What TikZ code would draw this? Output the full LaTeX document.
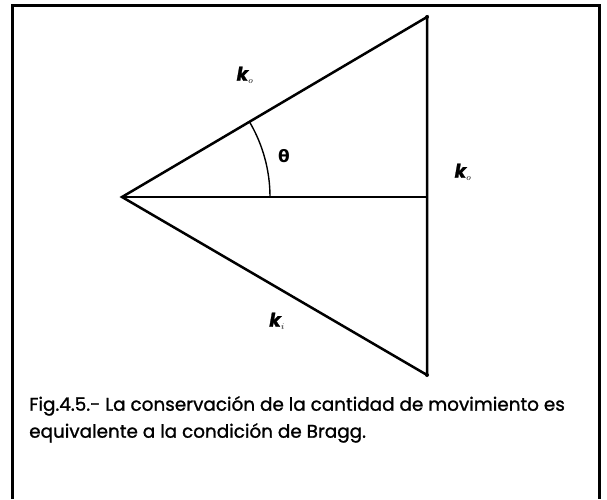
\documentclass[tikz,border=0pt]{standalone}
\usepackage{fontspec}
\setmainfont[FakeBold=1.2]{Poppins}
\setsansfont{Poppins}
\newfontfamily\greekfont{DejaVu Sans}
\usepackage{xcolor}
\usepackage{tikz}

\begin{document}
\begin{tikzpicture}[
    x=1pt, y=-1pt,
    frame/.style={line width=3pt},
    vector/.style={line width=2.5pt, line join=miter},
    klabel/.style={font=\bfseries\itshape\fontsize{19}{19}\selectfont},
    caption/.style={font=\fontsize{18.4}{27}\selectfont, align=left, anchor=north west, inner sep=0pt}
]
\useasboundingbox (0,0) rectangle (607,499);

\draw[frame] (12,499) -- (12,5) -- (599,5) -- (599,499);

\coordinate (apex) at (122,197);
\coordinate (top) at (427,17);
\coordinate (bottom) at (427,375);
\coordinate (mid) at (427,197);

\draw[vector] (bottom) -- (apex) -- (top) -- (bottom);
\draw[vector] (apex) -- (mid);
\fill (top) circle (2pt);
\fill (bottom) circle (2pt);

% angle theta
\draw[line width=1.4pt] ([shift={(0:148pt)}]apex) arc[start angle=0, end angle=30.5, radius=148pt];
\node[font=\greekfont\bfseries\fontsize{17}{17}\selectfont] (theta) at (284,156) {θ};

\node[klabel] (ko) at (245,75) {k$_{\scriptscriptstyle o}$};
\node[klabel] (ks) at (463,172) {k$_{\scriptscriptstyle o}$};
\node[klabel] (ki) at (277,321) {k$_{\scriptscriptstyle i}$};

\node[caption] (text) at (29,396) {Fig.4.5.- La conservación de la cantidad de movimiento es\\
equivalente a la condición de Bragg.};

\end{tikzpicture}
\end{document}
